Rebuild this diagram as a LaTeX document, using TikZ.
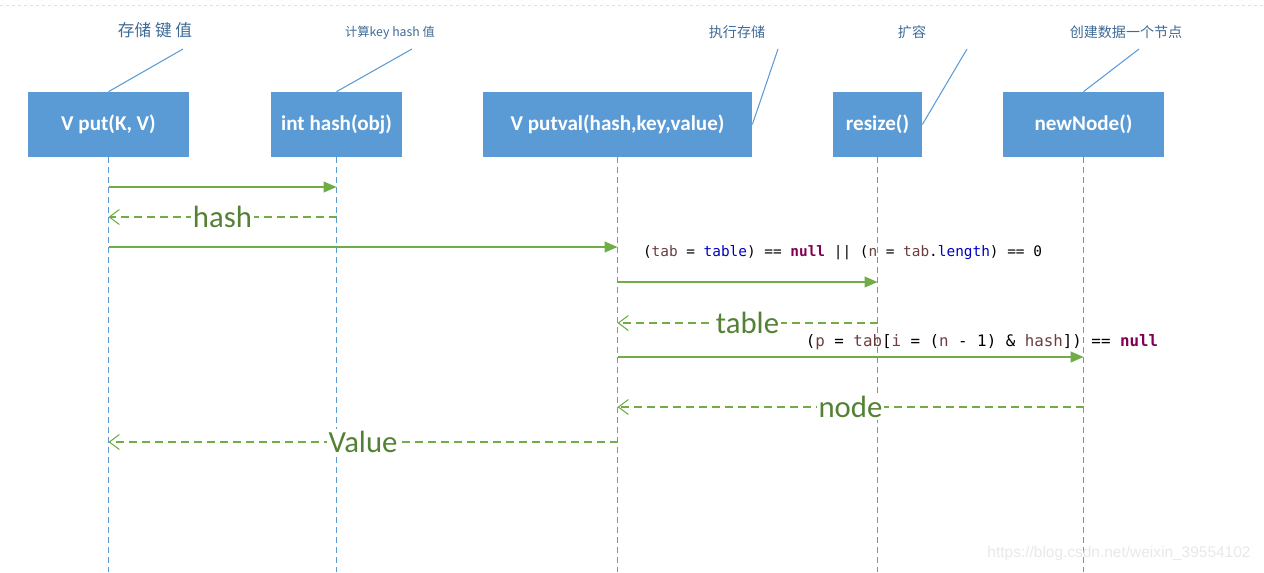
\documentclass[tikz,border=0pt]{standalone}
\usepackage{fontspec}
\setmainfont{Carlito}
\newfontfamily\cjk{Noto Sans CJK SC}
\newfontfamily\codefont{DejaVu Sans Mono}
\newfontfamily\urlfont{Liberation Sans}
\usetikzlibrary{arrows.meta}
\definecolor{boxblue}{HTML}{5B9BD5}
\definecolor{msggreen}{HTML}{70AD47}
\definecolor{lblgreen}{HTML}{548235}
\definecolor{notecol}{HTML}{3E6A96}
\definecolor{codevar}{HTML}{6A3E3E}
\definecolor{codefield}{HTML}{0000C0}
\definecolor{codekey}{HTML}{7F0055}
\newcommand{\cvar}[1]{\textcolor{codevar}{#1}}
\newcommand{\cfld}[1]{\textcolor{codefield}{#1}}
\newcommand{\ckey}[1]{\textcolor{codekey}{\bfseries #1}}
\begin{document}
\begin{tikzpicture}[x=0.02cm, y=-0.02cm,
        % Blue method boxes
        objbox/.style={fill=boxblue, draw=none, text=white, font=\bfseries\fontsize{12}{14}\selectfont, minimum height=1.3cm, inner sep=0},
        % Dashed lifelines
        lifeline/.style={draw=boxblue, line width=0.6pt, dash pattern=on 0.12cm off 0.08cm},
        % Callout text and its line
        note/.style={text=notecol, font=\cjk\fontsize{8}{10}\selectfont, inner sep=1pt},
        noteline/.style={draw=boxblue, line width=0.6pt},
        % Calls and returns
        call/.style={draw=msggreen, line width=0.7pt, -{Triangle[length=0.26cm,width=0.22cm]}},
        reply/.style={draw=msggreen, line width=0.6pt, dash pattern=on 0.16cm off 0.1cm, -{Straight Barb[length=0.2cm,width=0.3cm]}},
        retlabel/.style={fill=white, text=lblgreen, font=\fontsize{17.5}{20}\selectfont, inner sep=1pt},
        code/.style={font=\codefont\fontsize{8.2}{10}\selectfont, inner sep=0}
    ]
    \useasboundingbox (0,0) rectangle (1264,572);

    % Faint top border
    \draw[black!12, dash pattern=on 0.06cm off 0.06cm] (0,5) -- (1264,5);

    % Method boxes
    \node[objbox, minimum width=3.22cm] (put) at (108.5,124.5) {V put(K, V)};
    \node[objbox, minimum width=2.62cm] (hash) at (336.5,124.5) {int hash(obj)};
    \node[objbox, minimum width=5.38cm] (putval) at (617.5,124.5) {V putval(hash,key,value)};
    \node[objbox, minimum width=1.78cm] (resize) at (877.5,124.5) {resize()};
    \node[objbox, minimum width=3.22cm] (newnode) at (1083.5,124.5) {newNode()};

    % Lifelines
    \coordinate (bottom) at (0,572);
    \foreach \n in {put,hash,putval,resize,newnode}
        \draw[lifeline] (\n.south) -- (\n.south |- bottom);

    % Callouts
    \node[note, font=\cjk\fontsize{9.5}{11}\selectfont] (putnote) at (155,30) {存储 键 值};
    \node[note, font=\cjk\fontsize{7}{9}\selectfont] (hashnote) at (390,33) {计算key hash 值};
    \node[note] (putvalnote) at (737,32) {执行存储};
    \node[note] (resizenote) at (912,32) {扩容};
    \node[note] (newnodenote) at (1126,32) {创建数据一个节点};

    \coordinate (putnoteend) at (183,49);
    \coordinate (hashnoteend) at (412,49);
    \coordinate (putvalnoteend) at (778,49);
    \coordinate (resizenoteend) at (967,49);
    \coordinate (newnodenoteend) at (1139,49);
    \draw[noteline] (put.north) -- (putnoteend);
    \draw[noteline] (hash.north) -- (hashnoteend);
    \draw[noteline] (putval.east) -- (putvalnoteend);
    \draw[noteline] (resize.east) -- (resizenoteend);
    \draw[noteline] (newnode.north) -- (newnodenoteend);

    % Message rows
    \coordinate (r1) at (0,187);
    \coordinate (r2) at (0,217);
    \coordinate (r3) at (0,247);
    \coordinate (r4) at (0,282);
    \coordinate (r5) at (0,323);
    \coordinate (r6) at (0,357);
    \coordinate (r7) at (0,407);
    \coordinate (r8) at (0,442);

    \draw[call] (put |- r1) -- (hash |- r1);
    \draw[reply] (hash |- r2) -- node[retlabel] (hashret) {hash} (put |- r2);
    \draw[call] (put |- r3) -- (putval |- r3);
    \node[code] (cond1) at (842.5,253) {(\cvar{tab} = \cfld{table}) == \ckey{null} || (\cvar{n} = \cvar{tab}.\cfld{length}) == 0};
    \draw[call] (putval |- r4) -- (resize |- r4);
    \draw[reply] (resize |- r5) -- node[retlabel] (tableret) {table} (putval |- r5);
    \node[code, font=\codefont\fontsize{9}{11}\selectfont] (cond2) at (982,342) {(\cvar{p} = \cvar{tab}[\cvar{i} = (\cvar{n} - 1) \& \cvar{hash}]) == \ckey{null}};
    \draw[call] (putval |- r6) -- (newnode |- r6);
    \draw[reply] (newnode |- r7) -- node[retlabel] (noderet) {node} (putval |- r7);
    \draw[reply] (putval |- r8) -- node[retlabel] (valueret) {Value} (put |- r8);

    % Watermark
    \node[text=black!9, font=\urlfont\fontsize{8.8}{10}\selectfont] (mark) at (1119,553) {https://blog.csdn.net/weixin\_39554102};

\end{tikzpicture}
\end{document}
